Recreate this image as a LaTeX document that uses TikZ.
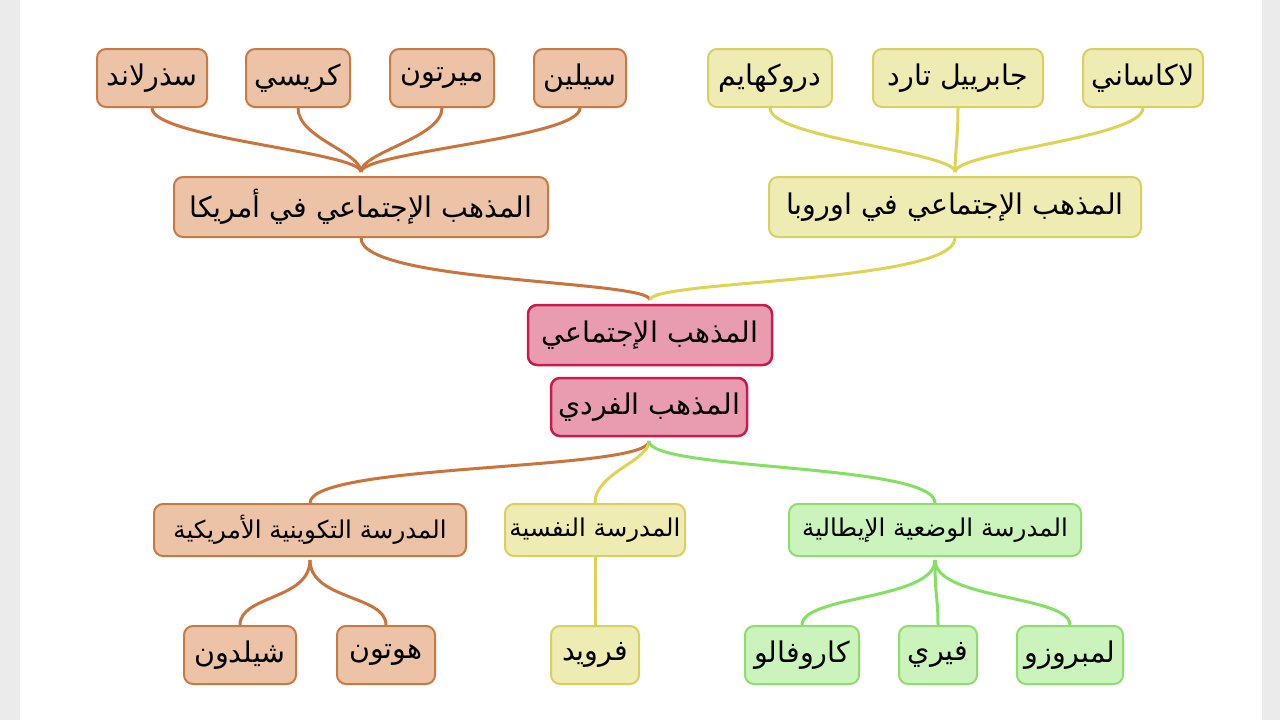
\documentclass[tikz,border=0pt]{standalone}
\usepackage{fontspec}
\newfontfamily\arabicfont[Script=Arabic]{DejaVu Sans}
\TeXXeTstate=1
\newcommand\AR[1]{\beginR #1\endR}
\definecolor{ofill}{HTML}{EDC3A8}\definecolor{odraw}{HTML}{C87A45}
\definecolor{yfill}{HTML}{EEEBB3}\definecolor{ydraw}{HTML}{D8D062}
\definecolor{pfill}{HTML}{E99CB0}\definecolor{pdraw}{HTML}{C81A4C}
\definecolor{gfill}{HTML}{CBF3BC}\definecolor{gdraw}{HTML}{90DC70}
\definecolor{ocon}{HTML}{C8743C}\definecolor{ycon}{HTML}{DCD452}\definecolor{gcon}{HTML}{84E062}
\begin{document}
\begin{tikzpicture}[x=1pt,y=-1pt,
 box/.style={rounded corners=9pt,line width=2pt,inner sep=0pt,align=center,
   font=\arabicfont\fontsize{28.5}{32}\selectfont},
 ob/.style={box,fill=ofill,draw=odraw},
 yb/.style={box,fill=yfill,draw=ydraw},
 pb/.style={box,fill=pfill,draw=pdraw,line width=2.5pt},
 gb/.style={box,fill=gfill,draw=gdraw},
 sm/.style={font=\arabicfont\fontsize{24.5}{28}\selectfont},
 con/.style={line width=3pt}]
\useasboundingbox (0,0) rectangle (1280,720);
\fill[white] (0,0) rectangle (1280,720);
\fill[black!8] (0,0) rectangle (20,720);
\fill[black!8] (1262,0) rectangle (1280,720);
% top left
\node[ob,minimum width=110,minimum height=58] (s1) at (152,78) {\AR{سذرلاند}};
\node[ob,minimum width=104,minimum height=58] (s2) at (298,78) {\AR{كريسي}};
\node[ob,minimum width=104,minimum height=58] (s3) at (442,78) {\AR{ميرتون}};
\node[ob,minimum width=92,minimum height=58] (s4) at (580,78) {\AR{سيلين}};
\node[ob,minimum width=374,minimum height=60] (am) at (361,207) {\AR{المذهب الإجتماعي في أمريكا}};
% top right
\node[yb,minimum width=124,minimum height=58] (e1) at (770,78) {\AR{دروكهايم}};
\node[yb,minimum width=170,minimum height=58] (e2) at (958,78) {\AR{جابرييل تارد}};
\node[yb,minimum width=120,minimum height=58] (e3) at (1143,78) {\AR{لاكاساني}};
\node[yb,minimum width=372,minimum height=60] (eu) at (955,207) {\AR{المذهب الإجتماعي في اوروبا}};
% center
\node[pb,minimum width=244,minimum height=60] (soc) at (650,335) {\AR{المذهب الإجتماعي}};
\node[pb,minimum width=196,minimum height=58] (ind) at (649,407) {\AR{المذهب الفردي}};
% bottom
\node[ob,sm,minimum width=312,minimum height=52] (b1) at (310,530) {\AR{المدرسة التكوينية الأمريكية}};
\node[yb,sm,minimum width=180,minimum height=52] (b2) at (595,530) {\AR{المدرسة النفسية}};
\node[gb,sm,minimum width=292,minimum height=52] (b3) at (935,530) {\AR{المدرسة الوضعية الإيطالية}};
\node[ob,minimum width=112,minimum height=58] (l1) at (240,655) {\AR{شيلدون}};
\node[ob,minimum width=98,minimum height=58] (l2) at (386,655) {\AR{هوتون}};
\node[yb,minimum width=88,minimum height=58] (l3) at (595,655) {\AR{فرويد}};
\node[gb,minimum width=114,minimum height=58] (l4) at (802,655) {\AR{كاروفالو}};
\node[gb,minimum width=78,minimum height=58] (l5) at (938,655) {\AR{فيري}};
\node[gb,minimum width=106,minimum height=58] (l6) at (1070,655) {\AR{لمبروزو}};
% connectors
\coordinate (amt) at (361,172);
\coordinate (eut) at (955,172);
\coordinate (soct) at (650,300);
\coordinate (indb) at (649,441);
\coordinate (b1b) at (310,560);
\coordinate (b3b) at (935,560);
\foreach \n in {s1,s2,s3,s4}
 \draw[con,ocon] (\n.south) .. controls +(0,30) and +(0,-20) .. (amt);
\foreach \n in {e1,e2,e3}
 \draw[con,ycon] (\n.south) .. controls +(0,30) and +(0,-20) .. (eut);
\draw[con,ocon] (am.south) .. controls +(0,45) and +(0,-20) .. (soct);
\draw[con,ycon] (eu.south) .. controls +(0,45) and +(0,-20) .. (soct);
\draw[con,ocon] (indb) .. controls +(0,30) and +(0,-40) .. (b1.north);
\draw[con,ycon] (indb) .. controls +(0,20) and +(0,-30) .. (b2.north);
\draw[con,gcon] (indb) .. controls +(0,30) and +(0,-40) .. (b3.north);
\draw[con,ocon] (b1b) .. controls +(0,40) and +(0,-30) .. (l1.north);
\draw[con,ocon] (b1b) .. controls +(0,40) and +(0,-30) .. (l2.north);
\draw[con,ycon] (b2.south) -- (l3.north);
\draw[con,gcon] (b3b) .. controls +(0,40) and +(0,-30) .. (l4.north);
\draw[con,gcon] (b3b) .. controls +(0,40) and +(0,-30) .. (l5.north);
\draw[con,gcon] (b3b) .. controls +(0,40) and +(0,-30) .. (l6.north);
\end{tikzpicture}
\end{document}
